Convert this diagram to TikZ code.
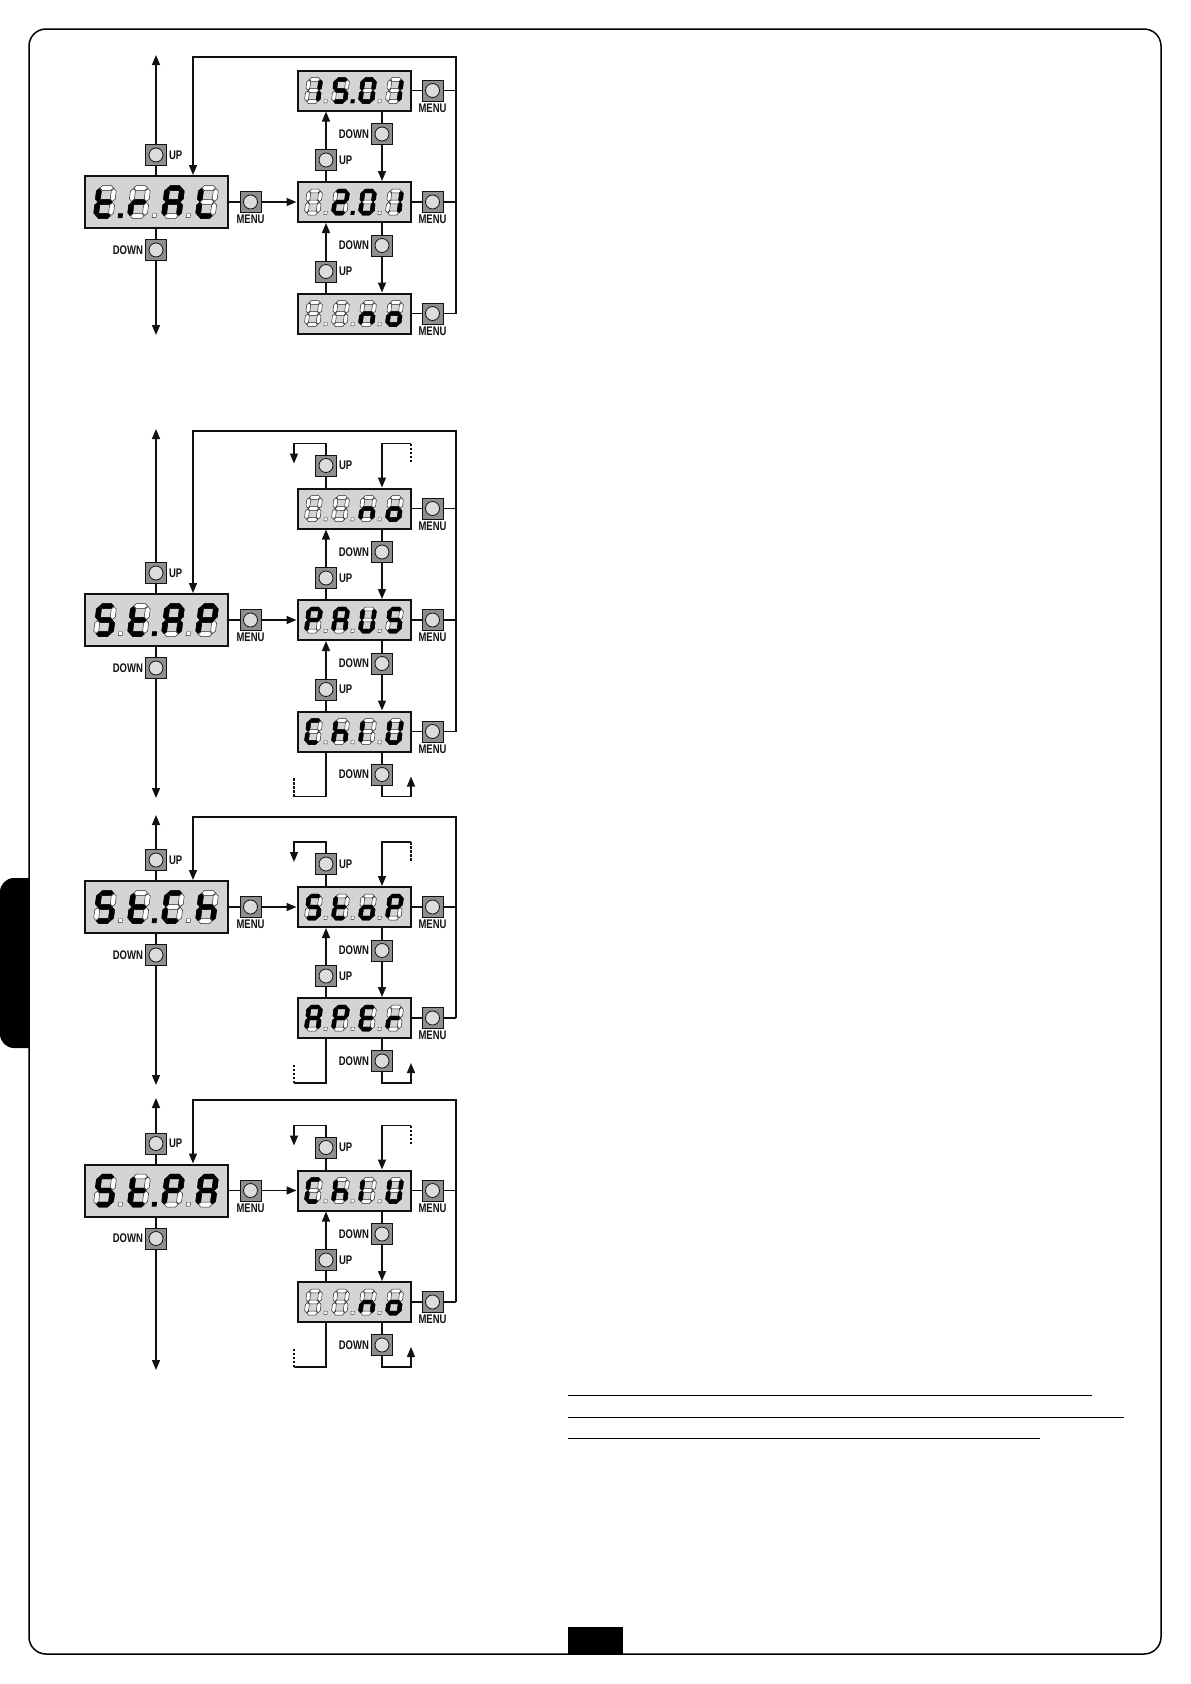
\documentclass[tikz,border=0pt]{standalone}
\usepackage{fontspec}
\newfontfamily\keyfont[FakeStretch=0.76]{Liberation Sans}
\usetikzlibrary{arrows.meta,positioning}
\definecolor{ink}{HTML}{111111}
\definecolor{lcdgray}{HTML}{D4D4D4}
\definecolor{keygray}{HTML}{8E8E8E}
\definecolor{knob}{HTML}{DCDCDC}
% One seven-segment cell, in units: 12 wide, 20 high, y pointing down.
\newcommand\hseg[2]{\path[#2] (-4.15,#1) -- (-2.65,#1-1.5) -- (2.65,#1-1.5) -- (4.15,#1) -- (2.65,#1+1.5) -- (-2.65,#1+1.5) -- cycle;}
\newcommand\vseg[4]{\path[#4] (#1,#2+0.35) -- (#1+1.5,#2+1.85) -- (#1+1.5,#3-1.85) -- (#1,#3-0.35) -- (#1-1.5,#3-1.85) -- (#1-1.5,#2+1.85) -- cycle;}
\newcommand\segA[1]{\hseg{-8.5}{#1}}
\newcommand\segB[1]{\vseg{4.5}{-8.5}{0}{#1}}
\newcommand\segC[1]{\vseg{4.5}{0}{8.5}{#1}}
\newcommand\segD[1]{\hseg{8.5}{#1}}
\newcommand\segE[1]{\vseg{-4.5}{0}{8.5}{#1}}
\newcommand\segF[1]{\vseg{-4.5}{-8.5}{0}{#1}}
\newcommand\segG[1]{\hseg{0}{#1}}
\newcommand\segN[1]{}
% four cells inside a display node: node, cell scale, pitch, {lit segments}/point style
\newcommand\lcdtext[4]{%
  \foreach \segs/\dpt [count=\i] in {#4}{
    \pgfmathsetmacro\dx{(\i-2.5)*#3}
    \begin{scope}[shift={(#1.center)},shift={(\dx,0)},xslant=0.12,scale=#2]
      \foreach \sg in {A,B,C,D,E,F,G}{\csname seg\sg\endcsname{segoff}}
      \foreach \sg in \segs{\csname seg\sg\endcsname{segon}}
      \path[\dpt] (10.3,8.3) +(-1.2,-1.2) rectangle +(1.2,1.2);
    \end{scope}
  }}
\begin{document}
\begin{tikzpicture}[x=1pt,y=-1pt,
  wire/.style={line width=1.4pt,draw=ink},
  arr/.style={wire,-{Triangle[length=10pt,width=8pt]}},
  loose/.style={wire,dash pattern=on 2.5pt off 1.5pt},
  mainlcd/.style={draw=ink,line width=2pt,fill=lcdgray,minimum width=143pt,minimum height=52pt,inner sep=0},
  sublcd/.style={mainlcd,minimum width=113pt,minimum height=40pt},
  btn/.style={draw=ink,line width=.8pt,fill=keygray,minimum size=21pt,inner sep=0,
    path picture={\draw[fill=knob,line width=.8pt] (path picture bounding box.center) circle (7pt);}},
  keylbl/.style={font=\keyfont\bfseries\fontsize{12.5}{13}\selectfont,inner sep=0,text=ink},
  segon/.style={fill=black,draw=black,line width=.5pt},
  segoff/.style={fill=white,draw=black!85,line width=.5pt},
  dpon/.style={fill=black,draw=black,line width=.8pt},
  dpoff/.style={fill=white,draw=black!85,line width=.4pt},
  dpnone/.style={}]
\path[use as bounding box] (0,0) rectangle (1191,1684);
% Page frame, side tab, page-number block and blank rules.
\draw[line width=1.5pt,rounded corners=17pt] (29,29) rectangle (1161,1654);
\begin{scope}
  \clip (0,870) rectangle (29,1056);
  \fill[rounded corners=14pt] (0,878) rectangle (60,1048);
\end{scope}
\fill (568,1627) rectangle (623,1654);
\foreach \y/\xe in {1395/1092,1417/1124,1438/1040}
  \draw[line width=1pt] (568,\y) -- (\xe,\y);

% Sub-menu displays with their MENU keys.
\foreach \dg/\kk/\y in {tr/1/90.5,tr/2/202,tr/3/313.5,sa/1/508.5,sa/2/620,sa/3/731.5,
    sc/1/907,sc/2/1018,sp/1/1190.5,sp/2/1302}{
  \node[sublcd] (\dg-\kk) at (354,\y) {};
  \node[btn] (\dg-m\kk) at (432.5,\y) {};
  \node[keylbl,below=2pt of \dg-m\kk] (\dg-m\kk-t) {MENU};
  \draw[wire] (\dg-\kk) -- (\dg-m\kk);
}

% Main parameter displays, UP/DOWN scroll and MENU entry.
\foreach \dg/\my/\ly/\by/\tg/\lastk in {tr/202/57/335/2/3,sa/620/431/798/2/3,
    sc/907/817/1085/1/2,sp/1190.5/1100/1370/1/2}{
  \node[mainlcd] (\dg) at (156,\my) {};
  \node[btn] (\dg-up) at (156,\my-47) {};
  \node[btn] (\dg-dn) at (156,\my+48) {};
  \node[btn] (\dg-menu) at (250.5,\my) {};
  \node[keylbl,right=2pt of \dg-up] (\dg-up-t) {UP};
  \node[keylbl,left=2pt of \dg-dn] (\dg-dn-t) {DOWN};
  \node[keylbl,below=2pt of \dg-menu] (\dg-menu-t) {MENU};
  \coordinate (\dg-tip) at (156,\ly-2);
  \coordinate (\dg-end) at (156,\by);
  \coordinate (\dg-loop) at (456,\ly);
  \draw[wire] (\dg) -- (\dg-up);
  \draw[arr] (\dg-up) -- (\dg-tip);
  \draw[wire] (\dg) -- (\dg-dn);
  \draw[arr] (\dg-dn) -- (\dg-end);
  \draw[wire] (\dg) -- (\dg-menu);
  \draw[arr] (\dg-menu) -- (\dg-\tg);
  % MENU on any value returns to the parameter
  \foreach \kk in {1,...,\lastk}
    \draw[wire] (\dg-m\kk) -- (\dg-m\kk -| \dg-loop);
  \draw[arr] (\dg-m\lastk -| \dg-loop) -- (\dg-loop) -| ([xshift=37pt]\dg.north);
}

% DOWN / UP keys between two values.
\foreach \dg/\a/\ya/\b/\yb in {tr/1/90.5/2/202,tr/2/202/3/313.5,sa/1/508.5/2/620,
    sa/2/620/3/731.5,sc/1/907/2/1018,sp/1/1190.5/2/1302}{
  \node[btn] (\dg-dn\a) at (382,\ya+43.5) {};
  \node[keylbl,left=2pt of \dg-dn\a] (\dg-dn\a-t) {DOWN};
  \node[btn] (\dg-up\b) at (326,\yb-42) {};
  \node[keylbl,right=2pt of \dg-up\b] (\dg-up\b-t) {UP};
  \draw[wire] (\dg-\a.south -| \dg-dn\a) -- (\dg-dn\a);
  \draw[arr] (\dg-dn\a) -- (\dg-dn\a |- \dg-\b.north);
  \draw[wire] (\dg-\b.north -| \dg-up\b) -- (\dg-up\b);
  \draw[arr] (\dg-up\b) -- (\dg-up\b |- \dg-\a.south);
}

% Open ends: the value list wraps round.
\foreach \dg/\f/\yf/\l/\yl in {sa/1/508.5/3/731.5,sc/1/907/2/1018,sp/1/1190.5/2/1302}{
  \node[btn] (\dg-up0) at (326,\yf-43) {};
  \node[keylbl,right=2pt of \dg-up0] (\dg-up0-t) {UP};
  \coordinate (\dg-wrapL) at (294,\yf-65);
  \coordinate (\dg-wrapR) at (411,\yf-65);
  \draw[wire] (\dg-\f.north -| \dg-up0) -- (\dg-up0);
  \draw[arr] (\dg-up0) |- (\dg-wrapL) -- ++(0,20);
  \draw[arr] (\dg-wrapR) -| (\dg-\f.north -| \dg-dn\f);
  \draw[loose] (\dg-wrapR) -- ++(0,20);
  \node[btn] (\dg-dn\l) at (382,\yl+43) {};
  \node[keylbl,left=2pt of \dg-dn\l] (\dg-dn\l-t) {DOWN};
  \coordinate (\dg-wrapBL) at (294,\yl+65);
  \coordinate (\dg-wrapBR) at (411,\yl+65);
  \draw[wire] (\dg-\l.south -| \dg-dn\l) -- (\dg-dn\l);
  \draw[arr] (\dg-dn\l) |- (\dg-wrapBR) -- ++(0,-20);
  \draw[wire] (\dg-\l.south -| \dg-up\l) |- (\dg-wrapBL);
  \draw[loose] (\dg-wrapBL) -- ++(0,-20);
}

% Display contents.
\lcdtext{tr}{1.65}{34}{{D,E,F,G}/dpon,{E,G}/dpoff,{A,B,C,E,F,G}/dpoff,{D,E,F}/dpnone}
\lcdtext{tr-1}{1.3}{27}{{B,C}/dpoff,{A,F,G,C,D}/dpon,{A,B,C,D,E,F}/dpoff,{B,C}/dpnone}
\lcdtext{tr-2}{1.3}{27}{{N}/dpoff,{A,B,G,E,D}/dpon,{A,B,C,D,E,F}/dpoff,{B,C}/dpnone}
\lcdtext{tr-3}{1.3}{27}{{N}/dpoff,{N}/dpoff,{C,E,G}/dpoff,{C,D,E,G}/dpnone}
\lcdtext{sa}{1.65}{34}{{A,F,G,C,D}/dpoff,{D,E,F,G}/dpon,{A,B,C,E,F,G}/dpoff,{A,B,E,F,G}/dpnone}
\lcdtext{sa-1}{1.3}{27}{{N}/dpoff,{N}/dpoff,{C,E,G}/dpoff,{C,D,E,G}/dpnone}
\lcdtext{sa-2}{1.3}{27}{{A,B,E,F,G}/dpoff,{A,B,C,E,F,G}/dpoff,{B,C,D,E,F}/dpoff,{A,F,G,C,D}/dpnone}
\lcdtext{sa-3}{1.3}{27}{{A,D,E,F}/dpoff,{C,E,F,G}/dpoff,{E,F}/dpoff,{B,C,D,E,F}/dpnone}
\lcdtext{sc}{1.65}{34}{{A,F,G,C,D}/dpoff,{D,E,F,G}/dpon,{A,D,E,F}/dpoff,{C,E,F,G}/dpnone}
\lcdtext{sc-1}{1.3}{27}{{A,F,G,C,D}/dpoff,{D,E,F,G}/dpoff,{C,D,E,G}/dpoff,{A,B,E,F,G}/dpnone}
\lcdtext{sc-2}{1.3}{27}{{A,B,C,E,F,G}/dpoff,{A,B,E,F,G}/dpoff,{A,D,E,F,G}/dpoff,{E,G}/dpnone}
\lcdtext{sp}{1.65}{34}{{A,F,G,C,D}/dpoff,{D,E,F,G}/dpon,{A,B,E,F,G}/dpoff,{A,B,C,E,F,G}/dpnone}
\lcdtext{sp-1}{1.3}{27}{{A,D,E,F}/dpoff,{C,E,F,G}/dpoff,{E,F}/dpoff,{B,C,D,E,F}/dpnone}
\lcdtext{sp-2}{1.3}{27}{{N}/dpoff,{N}/dpoff,{C,E,G}/dpoff,{C,D,E,G}/dpnone}
\end{tikzpicture}
\end{document}
